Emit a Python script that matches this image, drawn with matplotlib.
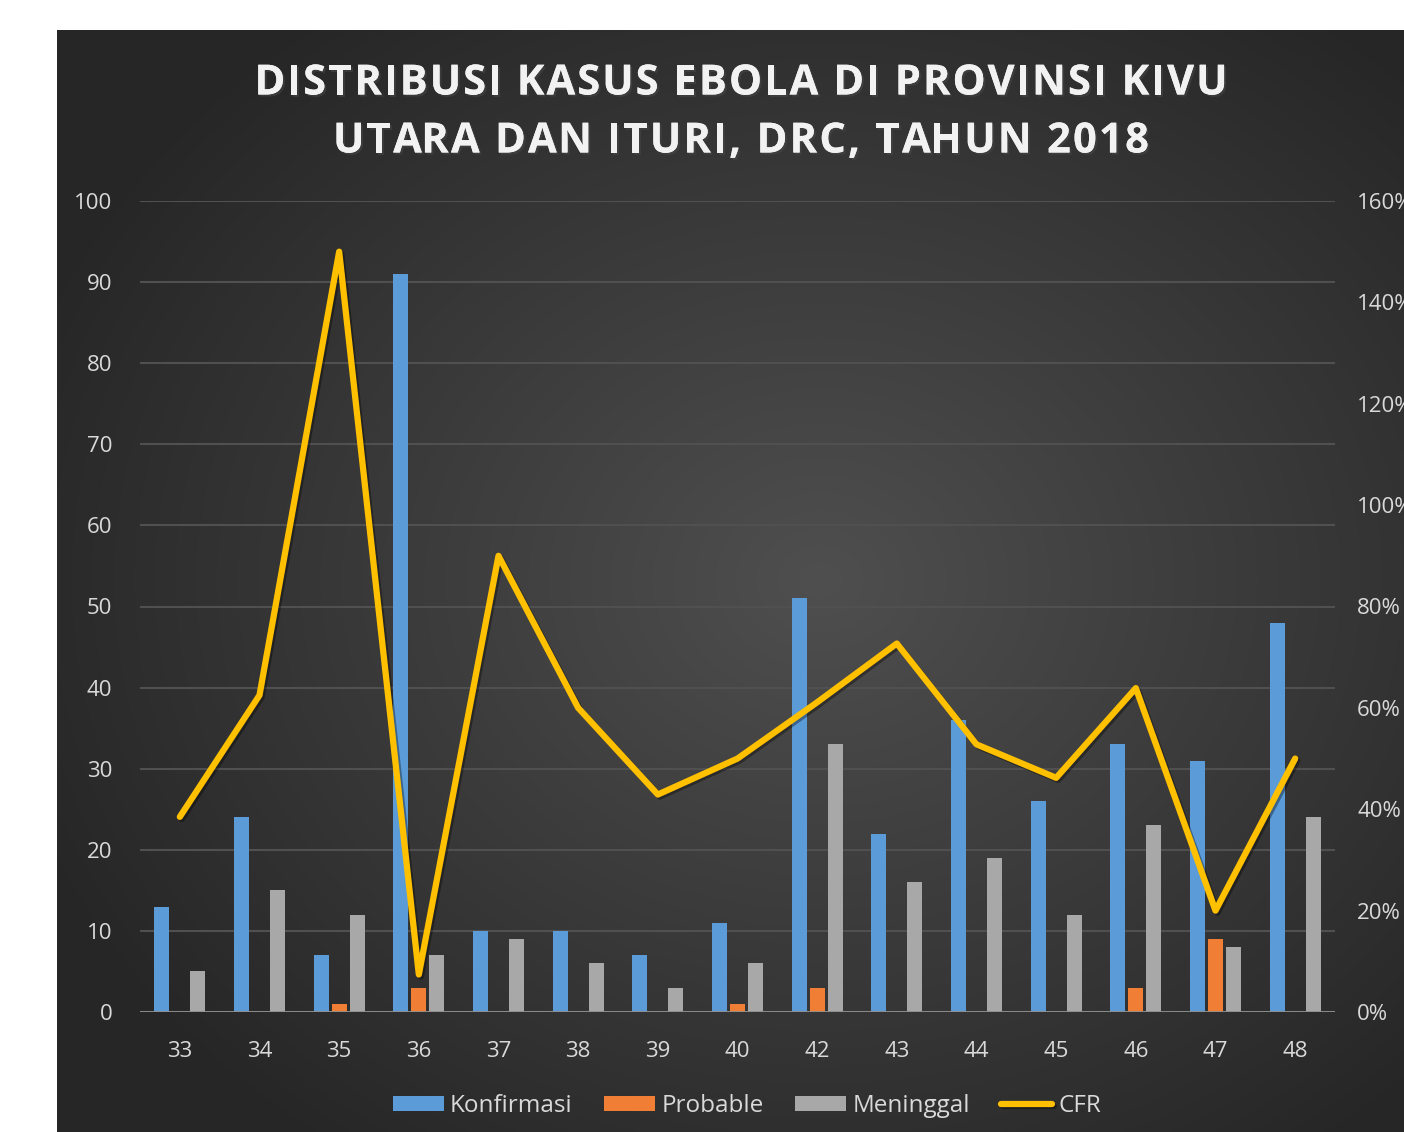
import matplotlib.pyplot as plt
import matplotlib.patheffects as pe
import numpy as np

weeks = ['33', '34', '35', '36', '37', '38', '39', '40', '42', '43', '44', '45', '46', '47', '48']
konfirmasi = [13, 24, 7, 91, 10, 10, 7, 11, 51, 22, 36, 26, 33, 31, 48]
probable = [0, 0, 1, 3, 0, 0, 0, 1, 3, 0, 0, 0, 3, 9, 0]
meninggal = [5, 15, 12, 7, 9, 6, 3, 6, 33, 16, 19, 12, 23, 8, 24]
cfr = [0.385, 0.625, 1.50, 0.074, 0.90, 0.60, 0.429, 0.50, 0.611, 0.727, 0.528, 0.462, 0.639, 0.20, 0.50]
title_lines = ['DISTRIBUSI KASUS EBOLA DI PROVINSI KIVU', 'UTARA DAN ITURI, DRC, TAHUN 2018']

plt.rcParams['font.family'] = ['Open Sans', 'DejaVu Sans']

W, H = 1404, 1132
fig = plt.figure(figsize=(W / 100, H / 100), dpi=100)
fig.patch.set_facecolor('white')

# dark panel with radial gradient
bg = fig.add_axes([57 / W, 0, 1 - 57 / W, 1 - 30 / H])
bg.set_axis_off()
yy, xx = np.mgrid[0:1102, 0:1347]
cx, cy = 820 - 57, 580 - 30
r = np.sqrt(((xx - cx) / 900.0) ** 2 + ((yy - cy) / 750.0) ** 2)
shade = np.clip(0.31 - 0.17 * r, 0.15, 0.31)
img = np.dstack([shade, shade, shade])
bg.imshow(img, aspect='auto', extent=[0, 1, 0, 1], origin='upper')

ax = fig.add_axes([140 / W, 1 - 1012 / H, (1335 - 140) / W, (1012 - 201) / H])
ax.patch.set_alpha(0)
x = np.arange(len(weeks))
bw = 0.19
off = 0.225
ax.bar(x - off, konfirmasi, bw, color='#5a9bd8', zorder=3, label='Konfirmasi')
ax.bar(x, probable, bw, color='#f07f35', zorder=3, label='Probable')
ax.bar(x + off, meninggal, bw, color='#a8a8a8', zorder=3, label='Meninggal')

ax.set_xlim(-0.5, len(weeks) - 0.5)
ax.set_ylim(0, 100)
ax.set_yticks(np.arange(0, 101, 10))
ax.set_xticks(x)
ax.set_xticklabels(weeks)
ax.grid(axis='y', color='#505050', linewidth=1.5, zorder=0)
ax.axhline(0, color='#8f8f8f', linewidth=2, zorder=4)
for s in ax.spines.values():
    s.set_visible(False)
ax.tick_params(axis='both', length=0, colors='#d9d9d9', labelsize=16)
ax.tick_params(axis='y', pad=20)
ax.tick_params(axis='x', pad=21)

ax2 = ax.twinx()
ax2.plot(x, cfr, color='#ffc000', linewidth=4.5, solid_joinstyle='round',
         solid_capstyle='round', zorder=5, label='CFR',
         path_effects=[pe.SimpleLineShadow(offset=(1.5, -1.5), alpha=0.35), pe.Normal()])
ax2.set_ylim(0, 1.6)
ax2.set_yticks(np.arange(0, 1.61, 0.2))
ax2.set_yticklabels([f'{int(round(v * 100))}%' for v in np.arange(0, 1.61, 0.2)])
for s in ax2.spines.values():
    s.set_visible(False)
ax2.tick_params(axis='y', length=0, colors='#d9d9d9', labelsize=16, pad=16)

# title with letter spacing
renderer = fig.canvas.get_renderer()
title_kw = dict(color='#f2f2f2', fontsize=30, fontweight='bold', va='center', ha='left')
shadow = [pe.withSimplePatchShadow(offset=(1.5, -1.5), alpha=0.5), pe.Normal()]


def text_width(s):
    t = fig.text(0, 0, s.replace(' ', '\u00a0'), **title_kw)
    w = t.get_window_extent(renderer).width
    t.remove()
    return w


for line, yc, target in zip(title_lines, [84, 142], [973, 816]):
    w0 = text_width(line)
    sp = (target - w0) / (len(line) - 1)
    left = 741 - target / 2
    for i, ch in enumerate(line):
        if ch == ' ':
            continue
        px = left + (text_width(line[:i]) if i else 0) + i * sp
        fig.text(px / W, 1 - yc / H, ch, path_effects=shadow, **title_kw)

h1, l1 = ax.get_legend_handles_labels()
h2, l2 = ax2.get_legend_handles_labels()
leg = fig.legend(h1 + h2, l1 + l2, loc='center', bbox_to_anchor=(747 / W, 1 - 1106 / H),
                 ncol=4, frameon=False, fontsize=17.5, handlelength=2.1, handleheight=0.55,
                 handletextpad=0.25, columnspacing=1.3, labelcolor='#d9d9d9')

fig.savefig('out.png', dpi=100, facecolor=fig.get_facecolor())
